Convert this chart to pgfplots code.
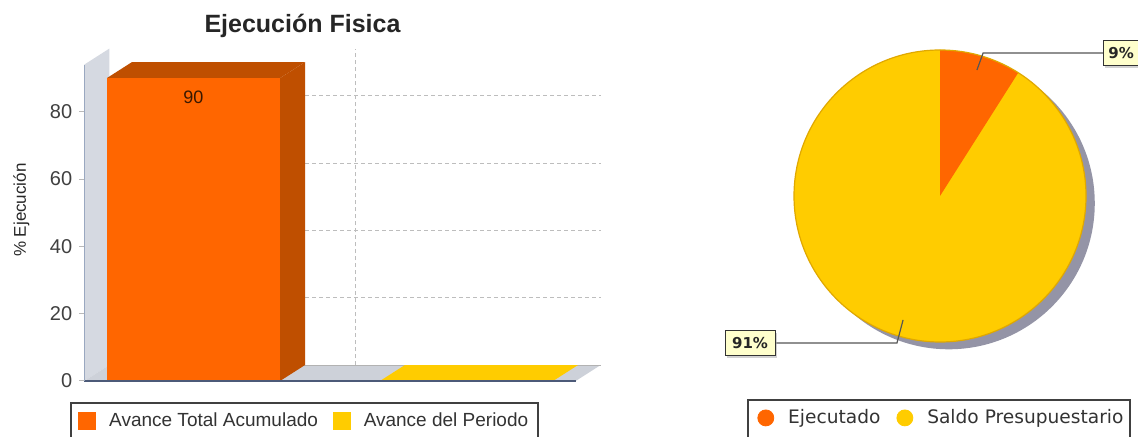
\documentclass[border=0pt]{standalone}
\usepackage{pgfplots}
\pgfplotsset{compat=1.18}
\usepackage{fontspec}
\setmainfont{Liberation Sans}
\newfontfamily\dejavu{DejaVu Sans}
\usetikzlibrary{shadows}
\definecolor{orF}{HTML}{FF6600}
\definecolor{orS}{HTML}{BF4F00}
\definecolor{yeF}{HTML}{FFCC00}
\definecolor{wallC}{HTML}{D5D9E1}
\definecolor{floorC}{HTML}{CDD1D9}
\definecolor{gridC}{HTML}{BDBDBD}
\definecolor{axisC}{HTML}{4C5A78}
\definecolor{yaxC}{HTML}{9AA8C0}
\definecolor{pieO}{HTML}{FF6600}
\definecolor{pieY}{HTML}{FFCC00}
\definecolor{pieEdge}{HTML}{E0A800}
\definecolor{shadowC}{HTML}{9494A6}
\definecolor{labelBg}{HTML}{FFFFCC}
\definecolor{leadC}{HTML}{555555}
\tikzset{lbl/.style={fill=labelBg, draw=black!80, line width=0.5pt,
    font=\dejavu\bfseries\fontsize{7.5}{9}\selectfont, text=black!85,
    minimum height=12.5pt, inner xsep=2.5pt,
    drop shadow={shadow xshift=1pt, shadow yshift=-1pt, fill=black!35}}}
% data
\def\valAcum{90}
\def\valPer{0}
\def\pctEjec{9}
\def\pctSaldo{91}
\pgfmathsetmacro\angE{90-\pctEjec*3.6}
\begin{document}
\begin{tikzpicture}
\useasboundingbox (0,0) rectangle (569pt,218.5pt);
\fill[white] (0,0) rectangle (569pt,218.5pt);
% ---------------- bar chart ----------------
\begin{axis}[
  at={(42.15pt,28pt)}, anchor=south west,
  scale only axis, width=245.7pt, height=158.2pt,
  xmin=-0.4, xmax=1.4, ymin=0, ymax=94,
  clip=false, axis on top,
  axis x line=bottom, axis y line=left,
  x axis line style={-, draw=axisC, line width=0.9pt},
  y axis line style={-, draw=yaxC, line width=0.5pt},
  xtick=\empty,
  ytick={0,20,40,60,80},
  tick align=outside, major tick length=2.5pt,
  ytick style={draw=gray!55, line width=0.5pt},
  yticklabel style={font=\fontsize{10}{12}\selectfont, text=black!75},
  /pgf/number format/assume math mode=true,
  title={Ejecución Fisica},
  title style={at={(axis description cs:0.444,1.084)}, anchor=center, yshift=0pt,
    font=\bfseries\fontsize{12.5}{15}\selectfont, text=black!85},
  ylabel={\% Ejecución},
  ylabel style={at={(axis description cs:-0.128,0.54)}, anchor=center,
    font=\fontsize{8.5}{10}\selectfont, text=black!85},
  legend style={at={(axis description cs:-0.0128,-0.1264)}, anchor=west,
    draw=none, fill=none, legend columns=-1, inner sep=0pt,
    font=\fontsize{9.5}{11}\selectfont, text=black!80,
    nodes={inner sep=0pt},
    /tikz/every odd column/.style={column sep=6.5pt},
    /tikz/every even column/.style={column sep=7.5pt}},
]
% back wall
\addplot[fill=wallC, draw=none, forget plot] coordinates {(-0.4,0) (-0.3084,4.75) (-0.3084,98.75) (-0.4,94)} -- cycle;
% floor
\addplot[fill=floorC, draw=none, forget plot] coordinates {(-0.4,0) (1.4,0) (1.4916,4.75) (-0.3084,4.75)} -- cycle;
\addplot[gray!60, line width=0.5pt, forget plot] coordinates {(-0.3084,4.75) (1.4916,4.75)};
% grid in back plane
\addplot[gridC, line width=0.5pt, dash pattern=on 2pt off 1.5pt, forget plot] coordinates {(-0.3084,24.75) (1.4916,24.75)};
\addplot[gridC, line width=0.5pt, dash pattern=on 2pt off 1.5pt, forget plot] coordinates {(-0.3084,44.75) (1.4916,44.75)};
\addplot[gridC, line width=0.5pt, dash pattern=on 2pt off 1.5pt, forget plot] coordinates {(-0.3084,64.75) (1.4916,64.75)};
\addplot[gridC, line width=0.5pt, dash pattern=on 2pt off 1.5pt, forget plot] coordinates {(-0.3084,84.75) (1.4916,84.75)};
\addplot[gridC, line width=0.5pt, dash pattern=on 2pt off 1.5pt, forget plot] coordinates {(0.5916,4.75) (0.5916,98.75)};
% bar 1 depth faces
\addplot[fill=orS, draw=none, forget plot] coordinates {(0.317,0) (0.4086,4.75) (0.4086,94.75) (0.317,90)} -- cycle;
\addplot[fill=orS, draw=none, forget plot] coordinates {(-0.317,90) (0.317,90) (0.4086,94.75) (-0.2254,94.75)} -- cycle;
% bar 1 front
\addplot[ybar, bar width=0.634, bar shift=0pt, fill=orF, draw=none, forget plot,
  nodes near coords,
  every node near coord/.append style={anchor=north, yshift=-3pt,
    font=\fontsize{9}{10}\selectfont, text=black!70!orS}]
  coordinates {(0,90)};
% bar 2 (value 0): top face
\addplot[fill=yeF, draw=none, forget plot] coordinates {(0.683,0) (1.317,0) (1.4086,4.75) (0.7746,4.75)} -- cycle;
\addplot[ybar, bar width=0.634, bar shift=0pt, fill=yeF, draw=none, forget plot] coordinates {(1,0)};
% legend
\addlegendimage{legend image code/.code={\fill[orF] (0pt,-4.25pt) rectangle (8.5pt,4.25pt);}}
\addlegendentry{Avance Total Acumulado}
\addlegendimage{legend image code/.code={\fill[yeF] (0pt,-4.25pt) rectangle (8.5pt,4.25pt);}}
\addlegendentry{Avance del Periodo}
\end{axis}
% ---------------- pie chart ----------------
\begin{axis}[
  at={(470pt,120.5pt)}, anchor=center,
  scale only axis, width=146pt, height=146pt,
  xmin=-1, xmax=1, ymin=-1, ymax=1,
  hide axis, clip=false,
  legend style={at={(axis description cs:-0.1267,-0.260)}, anchor=west,
    draw=none, fill=none, legend columns=-1, inner sep=0pt,
    font=\dejavu\fontsize{9.3}{11}\selectfont, text=black!80,
    nodes={inner sep=0pt},
    /tikz/every odd column/.style={column sep=7pt},
    /tikz/every even column/.style={column sep=8pt}},
]
\fill[shadowC] (axis cs:0.06,-0.05) circle[radius=1];
\fill[pieY] (axis cs:0,0) circle[radius=1];
\fill[pieO] (axis cs:0,0) -- (axis cs:0,1) arc[start angle=90, end angle=\angE, radius=1] -- cycle;
\draw[pieEdge, line width=0.6pt] (axis cs:0,0) circle[radius=1];
% leader lines
\addplot[leadC, line width=0.6pt, forget plot] coordinates {(0.253,0.863) (0.295,0.979) (1.116,0.979)};
\addplot[leadC, line width=0.6pt, forget plot] coordinates {(-0.253,-0.849) (-0.295,-1.007) (-1.13,-1.007)};
\node[lbl, anchor=west] at (axis cs:1.116,0.979) {\pctEjec\%};
\node[lbl, minimum width=25pt] at (axis cs:-1.301,-1.007) {\pctSaldo\%};
\addlegendimage{legend image code/.code={\fill[pieO] (4pt,0pt) circle[radius=4pt];}}
\addlegendentry{Ejecutado}
\addlegendimage{legend image code/.code={\fill[pieY] (4pt,0pt) circle[radius=4pt];}}
\addlegendentry{Saldo Presupuestario}
\end{axis}
% legend frames (continue past the lower edge, as in the reference)
\draw[black!75, line width=0.6pt] (35.5pt,-5pt) rectangle (269pt,17pt);
\draw[black!75, line width=0.6pt] (374pt,-5pt) rectangle (565pt,18.5pt);
\end{tikzpicture}
\end{document}
